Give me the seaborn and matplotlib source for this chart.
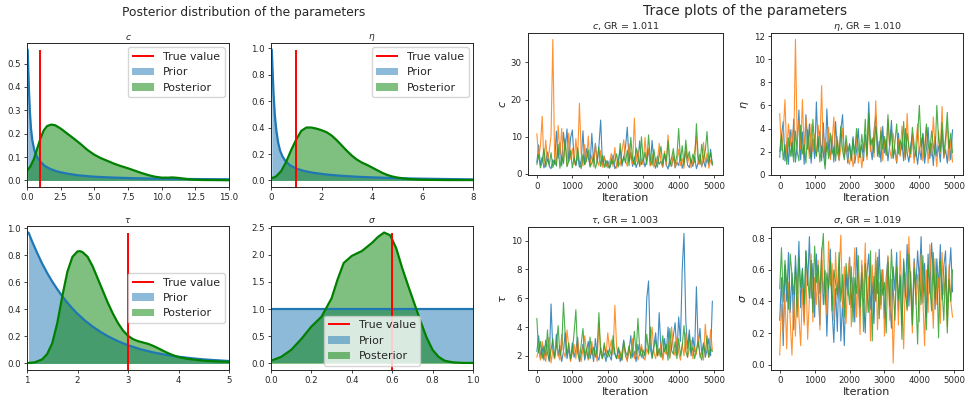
import numpy as np
import matplotlib
matplotlib.use("Agg")
import matplotlib.pyplot as plt
import seaborn as sns

sns.set_style("ticks")
plt.rcParams["font.family"] = ["DejaVu Sans"]
plt.rcParams.update({
    "axes.linewidth": 0.7,
    "xtick.major.size": 2.5,
    "ytick.major.size": 2.5,
    "xtick.major.width": 0.6,
    "ytick.major.width": 0.6,
    "xtick.labelsize": 6.2,
    "ytick.labelsize": 6.2,
    "xtick.major.pad": 2.0,
    "ytick.major.pad": 2.0,
})

# ---------------- prior / posterior densities ----------------
c_prior_x = [0.05, 0.1, 0.15, 0.22, 0.3, 0.4, 0.55, 0.75, 1.0, 1.3, 1.7, 2.2, 2.9,
             3.8, 5.0, 6.5, 8.0, 10.0, 12.5, 15.0]
c_prior_y = [0.56, 0.47, 0.38, 0.29, 0.22, 0.17, 0.128, 0.1, 0.08, 0.063, 0.05,
             0.039, 0.03, 0.022, 0.016, 0.012, 0.0095, 0.0075, 0.006, 0.005]
c_post_x = [0, 0.25, 0.5, 0.75, 1.0, 1.25, 1.5, 1.8, 2.1, 2.5, 3.0, 3.5, 4.0, 4.5,
            5.0, 5.5, 6.0, 6.5, 7.0, 7.5, 8.0, 8.5, 9.0, 9.5, 10.0, 10.5, 10.8,
            11.2, 11.6, 12.0, 12.5, 13.0, 14.0, 15.0]
c_post_y = [0.041, 0.06, 0.09, 0.135, 0.18, 0.215, 0.233, 0.239, 0.236, 0.222, 0.2,
            0.178, 0.155, 0.13, 0.11, 0.095, 0.083, 0.071, 0.061, 0.052, 0.042,
            0.032, 0.023, 0.016, 0.012, 0.012, 0.013, 0.011, 0.008, 0.005, 0.003,
            0.002, 0.0015, 0.001]

eta_prior_x = [0.03, 0.06, 0.1, 0.15, 0.21, 0.28, 0.36, 0.46, 0.58, 0.75, 1.0, 1.3,
               1.7, 2.2, 2.8, 3.5, 4.5, 5.5, 6.5, 8.0]
eta_prior_y = [0.99, 0.85, 0.66, 0.5, 0.38, 0.29, 0.225, 0.18, 0.145, 0.115, 0.09,
               0.072, 0.057, 0.045, 0.035, 0.027, 0.02, 0.015, 0.012, 0.008]
eta_post_x = [0, 0.2, 0.4, 0.6, 0.8, 1.0, 1.2, 1.4, 1.6, 1.8, 2.0, 2.2, 2.4, 2.6,
              2.8, 3.0, 3.2, 3.4, 3.6, 3.8, 4.0, 4.2, 4.4, 4.6, 4.8, 5.0, 5.3, 5.6,
              6.0, 6.5, 7.0, 8.0]
eta_post_y = [0.015, 0.03, 0.07, 0.14, 0.23, 0.31, 0.375, 0.4, 0.4, 0.392, 0.38,
              0.365, 0.34, 0.305, 0.265, 0.225, 0.188, 0.158, 0.135, 0.118, 0.098,
              0.078, 0.058, 0.042, 0.03, 0.022, 0.014, 0.009, 0.005, 0.004, 0.003,
              0.003]

tau_prior_x = [1.03, 1.1, 1.2, 1.3, 1.4, 1.5, 1.6, 1.7, 1.8, 1.9, 2.0, 2.15, 2.3,
               2.45, 2.6, 2.8, 3.0, 3.25, 3.5, 3.75, 4.0, 4.25, 4.5, 4.75, 5.0]
tau_prior_y = [0.97, 0.905, 0.82, 0.74, 0.67, 0.607, 0.55, 0.497, 0.45, 0.407, 0.368,
               0.317, 0.273, 0.235, 0.202, 0.165, 0.135, 0.105, 0.082, 0.064, 0.05,
               0.039, 0.03, 0.024, 0.018]
tau_post_x = [1.0, 1.15, 1.3, 1.4, 1.5, 1.6, 1.7, 1.8, 1.9, 2.0, 2.05, 2.1, 2.2, 2.3,
              2.4, 2.5, 2.6, 2.7, 2.8, 2.9, 3.0, 3.1, 3.2, 3.3, 3.4, 3.5, 3.6, 3.7,
              3.8, 3.9, 4.0, 4.2, 4.5, 4.75, 5.0]
tau_post_y = [0.003, 0.008, 0.03, 0.07, 0.15, 0.3, 0.5, 0.68, 0.79, 0.83, 0.832,
              0.825, 0.79, 0.72, 0.63, 0.54, 0.45, 0.37, 0.3, 0.245, 0.205, 0.18,
              0.165, 0.155, 0.145, 0.13, 0.112, 0.093, 0.075, 0.06, 0.047, 0.033,
              0.02, 0.015, 0.012]

sigma_prior_x = [0.0, 1.0]
sigma_prior_y = [1.0, 1.0]
sigma_post_x = [0, 0.05, 0.1, 0.15, 0.2, 0.25, 0.3, 0.33, 0.36, 0.4, 0.45, 0.5, 0.53,
                0.56, 0.59, 0.62, 0.65, 0.68, 0.71, 0.74, 0.77, 0.8, 0.83, 0.86,
                0.9, 0.95, 1.0]
sigma_post_y = [0.05, 0.12, 0.25, 0.45, 0.68, 0.86, 1.2, 1.55, 1.85, 1.98, 2.07,
                2.22, 2.33, 2.41, 2.36, 2.12, 1.75, 1.42, 1.1, 0.78, 0.48, 0.25, 0.12,
                0.05, 0.02, 0.01, 0.01]

true_values = [1.0, 1.0, 3.0, 0.6]
param_titles = [r"$c$", r"$\eta$", r"$\tau$", r"$\sigma$"]
x_limits = [(0, 15), (0, 8), (1, 5), (0, 1)]
density_xticks = [[0, 2.5, 5, 7.5, 10, 12.5, 15], [0, 2, 4, 6, 8],
                  [1, 2, 3, 4, 5], [0, 0.2, 0.4, 0.6, 0.8, 1.0]]
density_yticks = [[0, 0.1, 0.2, 0.3, 0.4, 0.5], [0, 0.2, 0.4, 0.6, 0.8, 1.0],
                  [0, 0.2, 0.4, 0.6, 0.8, 1.0], [0, 0.5, 1.0, 1.5, 2.0, 2.5]]
legend_locs = ["upper right", "upper right", "center right", "lower center"]

# ---------------- MCMC chains (thinned, every 50 iterations) ----------------
iteration_step = 50
gr_values = [1.011, 1.010, 1.003, 1.019]
trace_yticks = [[0, 10, 20, 30], [0, 2, 4, 6, 8, 10, 12],
                [2, 4, 6, 8, 10], [0, 0.2, 0.4, 0.6, 0.8]]

c_chain_1 = [3.1, 7.8, 2.4, 4.5, 1.6, 3.2, 5.9, 2.0, 1.4, 3.8, 2.6, 11.5, 4.2, 8.4, 2.1, 11.2, 6.5, 12.1, 3.4, 9.6,
             11.8, 4.1, 2.3, 5.2, 1.8, 3.6, 11.6, 2.5, 6.8, 4.4, 2.2, 10.9, 3.1, 8.2, 2.9, 7.5, 14.5, 2.4, 4.8, 1.9,
             3.5, 1.6, 2.8, 5.1, 1.4, 2.2, 3.9, 6.3, 2.1, 4.4, 7.2, 12.6, 3.3, 5.8, 2.0, 4.6, 1.7, 3.2, 8.9, 2.5,
             4.1, 1.9, 3.6, 6.4, 2.3, 9.0, 3.0, 1.5, 4.8, 2.6, 3.4, 1.8, 5.5, 2.4, 1.3, 3.9, 2.0, 4.7, 1.6, 3.1,
             2.2, 5.0, 1.5, 3.3, 6.1, 2.4, 1.7, 3.8, 2.0, 4.5, 1.4, 2.9, 5.3, 2.1, 3.6, 1.8, 4.2, 2.5, 6.6, 2.3]
c_chain_2 = [10.8, 4.2, 7.5, 15.5, 2.3, 9.1, 3.4, 6.2, 10.3, 36.2, 4.5, 2.6, 13.0, 5.1, 12.2, 3.0, 8.6, 2.2, 11.0, 4.0,
             6.8, 2.5, 9.5, 3.7, 19.0, 5.6, 2.1, 7.9, 3.2, 10.2, 2.4, 5.0, 1.9, 8.0, 3.5, 2.2, 6.3, 1.8, 4.6, 2.7,
             1.6, 3.0, 5.5, 2.0, 7.1, 1.5, 3.4, 2.2, 6.0, 9.2, 3.5, 2.0, 8.1, 4.1, 2.6, 15.0, 3.3, 6.5, 1.9, 4.0,
             2.4, 9.8, 3.6, 7.0, 2.1, 5.2, 1.8, 4.3, 2.7, 8.2, 3.1, 1.9, 6.1, 2.3, 10.5, 3.7, 2.0, 5.5, 1.7, 3.2,
             6.6, 2.2, 4.1, 1.5, 7.4, 2.8, 4.9, 1.6, 3.5, 6.0, 10.0, 2.5, 4.7, 1.8, 8.5, 2.9, 5.6, 1.5, 3.8, 2.4]
c_chain_3 = [2.5, 5.2, 1.6, 3.3, 6.8, 1.8, 4.0, 2.4, 5.7, 1.7, 3.6, 2.1, 7.9, 1.5, 4.8, 2.7, 9.4, 1.9, 3.4, 6.3,
             1.6, 4.4, 2.2, 7.0, 3.1, 1.4, 5.3, 2.5, 3.8, 6.5, 1.8, 2.9, 4.6, 1.5, 3.2, 7.2, 2.0, 5.0, 1.7, 3.6,
             2.3, 1.5, 4.1, 2.6, 3.5, 5.4, 1.9, 8.2, 2.8, 4.7, 3.0, 6.4, 2.2, 9.8, 3.9, 2.4, 7.0, 4.5, 2.1, 10.0,
             3.4, 5.8, 2.5, 10.5, 4.0, 2.3, 6.6, 3.1, 1.8, 4.9, 7.4, 2.6, 5.5, 3.3, 8.9, 2.0, 4.3, 6.8, 2.7, 5.0,
             12.2, 3.5, 7.6, 2.4, 9.1, 4.2, 6.0, 2.8, 5.3, 3.1, 13.5, 4.6, 2.5, 8.0, 3.7, 6.2, 11.4, 3.0, 5.7, 2.6]

eta_chain_1 = [1.5, 3.4, 4.6, 1.2, 2.8, 0.9, 3.9, 1.6, 4.8, 1.1, 2.5, 5.6, 1.3, 3.7, 0.9, 5.2, 2.2, 4.4, 1.0, 3.1,
               1.4, 6.3, 2.0, 3.8, 1.2, 4.5, 0.9, 5.7, 2.3, 1.5, 3.4, 1.1, 4.6, 2.0, 1.3, 3.9, 5.2, 1.6, 2.5, 1.0,
               2.7, 1.4, 3.3, 1.0, 2.1, 4.0, 1.5, 2.6, 1.2, 3.5, 1.8, 6.3, 2.4, 1.3, 3.8, 5.1, 1.6, 2.9, 1.1, 4.2,
               1.9, 3.1, 1.2, 2.6, 4.7, 1.5, 2.2, 1.0, 3.6, 1.7, 2.8, 1.2, 4.0, 1.9, 1.1, 2.5, 3.4, 1.4, 2.1, 0.9,
               2.4, 1.3, 3.6, 1.0, 2.2, 4.1, 1.4, 2.7, 0.8, 3.3, 1.6, 2.5, 1.1, 3.8, 1.5, 2.2, 1.0, 3.0, 1.3, 3.9]
eta_chain_2 = [5.3, 2.1, 3.6, 6.5, 1.8, 4.4, 2.5, 3.9, 1.7, 11.7, 3.0, 4.7, 2.2, 6.5, 1.9, 5.0, 3.3, 1.4, 4.4, 2.0,
               3.5, 1.6, 4.3, 2.4, 7.7, 1.5, 3.2, 2.0, 4.1, 1.3, 2.7, 5.0, 1.6, 3.3, 1.2, 2.3, 4.0, 1.7, 2.9, 1.4,
               0.9, 2.1, 0.7, 1.6, 3.4, 1.0, 2.4, 0.6, 1.9, 3.0, 1.3, 4.6, 2.0, 3.2, 1.5, 6.4, 2.6, 1.8, 4.1, 1.2,
               3.0, 1.7, 4.8, 2.2, 1.4, 3.6, 2.0, 1.1, 3.1, 1.6, 4.2, 2.4, 1.3, 5.3, 2.0, 1.5, 3.5, 1.0, 2.7, 4.4,
               1.8, 3.2, 1.2, 2.5, 4.1, 1.0, 2.9, 1.6, 5.0, 2.3, 0.7, 3.8, 1.9, 5.9, 1.4, 2.6, 4.5, 1.2, 3.0, 1.1]
eta_chain_3 = [2.0, 3.5, 1.3, 2.6, 0.9, 3.2, 1.6, 2.8, 1.1, 3.8, 2.0, 1.2, 4.3, 1.8, 2.6, 1.0, 3.9, 2.1, 1.4, 4.8,
               2.4, 1.6, 3.3, 1.1, 2.5, 1.9, 0.5, 2.8, 1.4, 3.6, 1.8, 2.4, 1.2, 3.0, 1.7, 4.2, 2.1, 1.3, 3.4, 2.0,
               2.6, 1.2, 3.1, 1.8, 4.0, 2.3, 1.5, 3.5, 2.0, 4.8, 1.6, 5.3, 2.6, 3.1, 1.9, 4.2, 2.7, 1.5, 3.8, 2.2,
               3.3, 1.7, 5.2, 2.5, 3.9, 1.4, 2.8, 4.4, 1.8, 3.0, 2.2, 4.6, 1.5, 3.6, 2.4, 1.8, 4.1, 2.6, 1.6, 3.4,
               6.0, 2.4, 3.5, 1.6, 4.4, 2.7, 1.9, 3.8, 2.5, 1.7, 6.0, 3.1, 2.0, 4.5, 1.8, 3.2, 5.4, 2.3, 3.6, 1.9]

tau_chain_1 = [2.3, 3.4, 1.9, 2.6, 1.7, 3.1, 2.2, 1.6, 5.6, 2.4, 1.8, 3.5, 2.0, 2.7, 1.6, 2.3, 3.6, 1.8, 2.5, 1.7,
               2.9, 1.9, 2.4, 3.3, 1.6, 2.1, 2.8, 1.7, 2.3, 3.0, 1.8, 2.5, 1.6, 3.2, 2.0, 1.7, 2.6, 1.9, 2.2, 1.6,
               2.4, 2.0, 1.7, 2.8, 2.1, 1.8, 2.5, 1.6, 2.2, 3.1, 2.0, 1.7, 2.4, 3.4, 1.9, 2.3, 1.6, 2.8, 2.0, 2.6,
               1.8, 2.3, 6.0, 7.2, 2.5, 1.9, 2.7, 3.6, 2.0, 5.0, 2.4, 1.8, 3.2, 2.2, 4.0, 1.9, 2.6, 3.4, 4.3, 2.1,
               4.7, 3.0, 8.0, 10.5, 4.5, 2.5, 3.8, 2.0, 3.3, 2.3, 6.8, 2.6, 3.9, 2.1, 2.9, 1.9, 2.4, 3.2, 2.0, 5.8]
tau_chain_2 = [1.9, 2.5, 1.7, 3.0, 2.2, 1.6, 2.7, 3.3, 1.5, 2.4, 1.8, 2.9, 2.1, 1.7, 3.5, 2.3, 1.9, 3.8, 2.6, 1.6,
               2.2, 2.8, 1.8, 3.1, 2.0, 1.6, 2.5, 3.4, 2.3, 1.7, 2.1, 3.0, 1.9, 2.4, 1.6, 4.3, 2.2, 1.8, 2.7, 2.0,
               3.6, 2.4, 3.1, 2.1, 5.5, 2.6, 1.8, 2.3, 1.7, 2.9, 2.1, 1.6, 2.6, 2.0, 3.2, 1.8, 2.4, 1.7, 2.2, 2.8,
               2.0, 1.7, 2.5, 2.1, 3.1, 4.0, 2.3, 1.8, 2.6, 2.0, 2.9, 1.7, 2.4, 2.1, 3.0, 1.8, 4.0, 2.5, 2.0, 3.3,
               2.2, 1.7, 2.8, 2.0, 3.6, 1.9, 2.4, 3.1, 1.8, 2.6, 2.1, 3.4, 1.9, 2.3, 1.7, 4.2, 2.5, 1.9, 3.8, 2.4]
tau_chain_3 = [4.6, 2.2, 3.0, 1.8, 2.7, 2.0, 3.8, 1.7, 2.4, 3.2, 1.9, 2.6, 4.1, 2.0, 2.5, 5.7, 3.4, 2.1, 2.9, 1.8,
               2.3, 3.6, 5.2, 2.2, 1.7, 2.8, 3.9, 2.0, 2.5, 1.8, 3.3, 2.1, 2.6, 1.9, 2.4, 5.0, 2.2, 1.8, 2.9, 2.1,
               1.9, 2.5, 2.0, 3.4, 2.2, 1.8, 2.6, 2.1, 1.7, 3.0, 2.3, 2.0, 2.7, 1.8, 2.4, 3.7, 2.1, 4.6, 2.5, 1.9,
               2.4, 2.0, 3.5, 2.2, 4.0, 1.8, 2.6, 3.1, 2.0, 2.5, 1.9, 3.4, 2.3, 2.8, 1.7, 3.9, 2.4, 2.1, 3.0, 1.8,
               3.2, 2.0, 2.7, 4.1, 2.3, 1.9, 3.5, 2.2, 2.6, 1.8, 2.4, 3.0, 2.1, 1.7, 2.8, 2.2, 3.4, 1.9, 2.5, 2.3]

sigma_chain_1 = [0.28, 0.55, 0.12, 0.63, 0.40, 0.71, 0.33, 0.58, 0.22, 0.69, 0.45, 0.78, 0.36, 0.61, 0.27, 0.72, 0.50, 0.81, 0.42, 0.64,
                 0.30, 0.70, 0.47, 0.25, 0.66, 0.38, 0.59, 0.18, 0.52, 0.73, 0.34, 0.14, 0.48, 0.21, 0.62, 0.15, 0.40, 0.12, 0.57, 0.44,
                 0.68, 0.36, 0.55, 0.27, 0.74, 0.49, 0.31, 0.63, 0.42, 0.20, 0.58, 0.70, 0.35, 0.52, 0.26, 0.66, 0.45, 0.73, 0.38, 0.60,
                 0.29, 0.55, 0.68, 0.41, 0.23, 0.62, 0.47, 0.71, 0.34, 0.57, 0.25, 0.65, 0.43, 0.76, 0.37, 0.59, 0.28, 0.67, 0.48, 0.72,
                 0.53, 0.81, 0.39, 0.64, 0.30, 0.70, 0.45, 0.77, 0.58, 0.35, 0.67, 0.49, 0.76, 0.41, 0.62, 0.72, 0.32, 0.56, 0.74, 0.46]
sigma_chain_2 = [0.06, 0.38, 0.20, 0.45, 0.10, 0.52, 0.28, 0.06, 0.43, 0.18, 0.57, 0.30, 0.12, 0.48, 0.25, 0.60, 0.16, 0.42, 0.70, 0.27,
                 0.55, 0.38, 0.66, 0.22, 0.74, 0.45, 0.60, 0.32, 0.78, 0.50, 0.64, 0.28, 0.71, 0.42, 0.58, 0.82, 0.36, 0.62, 0.26, 0.55,
                 0.68, 0.24, 0.49, 0.74, 0.30, 0.58, 0.19, 0.66, 0.42, 0.77, 0.33, 0.56, 0.15, 0.63, 0.40, 0.71, 0.22, 0.52, 0.35, 0.60,
                 0.18, 0.47, 0.69, 0.28, 0.54, 0.01, 0.39, 0.62, 0.25, 0.72, 0.44, 0.10, 0.58, 0.34, 0.81, 0.48, 0.20, 0.65, 0.38, 0.57,
                 0.27, 0.70, 0.42, 0.12, 0.60, 0.33, 0.76, 0.48, 0.23, 0.67, 0.38, 0.55, 0.26, 0.71, 0.44, 0.58, 0.24, 0.63, 0.40, 0.30]
sigma_chain_3 = [0.48, 0.74, 0.40, 0.66, 0.52, 0.35, 0.70, 0.57, 0.44, 0.62, 0.30, 0.68, 0.49, 0.60, 0.38, 0.72, 0.55, 0.42, 0.66, 0.33,
                 0.75, 0.52, 0.63, 0.45, 0.70, 0.83, 0.38, 0.58, 0.48, 0.66, 0.34, 0.60, 0.52, 0.44, 0.71, 0.40, 0.57, 0.30, 0.64, 0.50,
                 0.38, 0.62, 0.27, 0.55, 0.45, 0.69, 0.36, 0.58, 0.21, 0.64, 0.47, 0.33, 0.72, 0.15, 0.56, 0.40, 0.68, 0.29, 0.60, 0.44,
                 0.52, 0.20, 0.65, 0.37, 0.73, 0.48, 0.28, 0.62, 0.41, 0.56, 0.16, 0.67, 0.45, 0.35, 0.70, 0.50, 0.25, 0.61, 0.43, 0.13,
                 0.57, 0.38, 0.69, 0.46, 0.22, 0.63, 0.50, 0.34, 0.71, 0.42, 0.58, 0.17, 0.66, 0.48, 0.28, 0.62, 0.20, 0.54, 0.40, 0.60]

densities = [
    (c_prior_x, c_prior_y, c_post_x, c_post_y),
    (eta_prior_x, eta_prior_y, eta_post_x, eta_post_y),
    (tau_prior_x, tau_prior_y, tau_post_x, tau_post_y),
    (sigma_prior_x, sigma_prior_y, sigma_post_x, sigma_post_y),
]
chains = [
    (c_chain_1, c_chain_2, c_chain_3),
    (eta_chain_1, eta_chain_2, eta_chain_3),
    (tau_chain_1, tau_chain_2, tau_chain_3),
    (sigma_chain_1, sigma_chain_2, sigma_chain_3),
]
chain_colors = ["tab:blue", "tab:orange", "tab:green"]

W, H = 968, 395
fig = plt.figure(figsize=(W / 100, H / 100), dpi=100)


def px_axes(left, top, right, bottom):
    return fig.add_axes([left / W, 1 - bottom / H, (right - left) / W, (bottom - top) / H])


dens_boxes = [(27, 43, 229, 187), (271, 43, 473, 187),
              (27, 226, 229, 370), (271, 226, 473, 370)]
trace_boxes = [(528, 33, 723, 175.5), (771, 33, 963, 175.5),
               (528, 227, 723, 369.5), (771, 227, 963, 369.5)]

# Posterior vs prior densities
for i, (px, py, qx, qy) in enumerate(densities):
    ax = px_axes(*dens_boxes[i])
    prior_fill = ax.fill_between(px, py, color="tab:blue", alpha=0.5, lw=0)
    sns.lineplot(x=px, y=py, ax=ax, color="tab:blue", lw=1.6)
    post_fill = ax.fill_between(qx, qy, color="green", alpha=0.5, lw=0)
    sns.lineplot(x=qx, y=qy, ax=ax, color="green", lw=1.6)
    top = max(max(py), max(qy))
    lo, hi = -0.05 * top, 1.05 * top
    tv = ax.vlines(true_values[i], lo, top, color="red", lw=1.4)
    ax.set_ylim(lo, hi)
    ax.set_xlim(*x_limits[i])
    ax.set_xticks(density_xticks[i])
    ax.set_yticks(density_yticks[i])
    ax.set_title(param_titles[i], fontsize=6.5, pad=2.5)
    ax.legend([tv, prior_fill, post_fill], ["True value", "Prior", "Posterior"],
              loc=legend_locs[i], fontsize=7.9, borderaxespad=0.4)

# Trace plots of the chains
for i, group in enumerate(chains):
    ax = px_axes(*trace_boxes[i])
    for vals, col in zip(group, chain_colors):
        iters = np.arange(len(vals)) * iteration_step
        sns.lineplot(x=iters, y=vals, ax=ax, color=col, lw=0.8, alpha=0.85)
    ax.set_xlim(-250, 5250)
    ax.set_xticks([0, 1000, 2000, 3000, 4000, 5000])
    ax.set_yticks(trace_yticks[i])
    ax.set_title(f"{param_titles[i]}, GR = {gr_values[i]:.3f}", fontsize=6.8, pad=3)
    ax.set_xlabel("Iteration", fontsize=8, labelpad=1.5)
    ax.set_ylabel(param_titles[i], fontsize=8, labelpad=2)

fig.text(243.5 / W, 1 - 12.7 / H, "Posterior distribution of the parameters",
         ha="center", va="center", fontsize=8.8, color=".15")
fig.text(745.5 / W, 1 - 11 / H, "Trace plots of the parameters",
         ha="center", va="center", fontsize=9.9, color=".15")

fig.savefig("out.png", dpi=100)
